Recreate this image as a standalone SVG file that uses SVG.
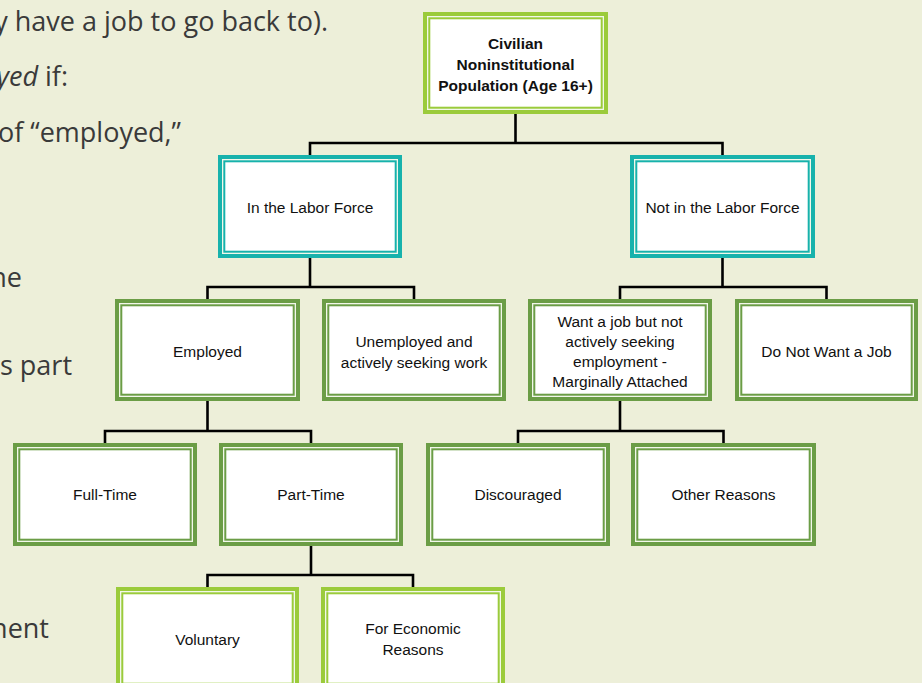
<svg xmlns="http://www.w3.org/2000/svg" width="922" height="683" viewBox="0 0 922 683">
<style>
.bg{fill:#EDEFD9}
.body{font-family:"Open Sans","Liberation Sans",sans-serif;font-size:27px;fill:#3a3a3a;text-anchor:end}
.lg{fill:#9BCB3B}
.tl{fill:#17B2AC}
.dg{fill:#6B9D46}
.hl{fill:#F2F7EA}
.in{fill:#FFFFFF}
.t{font-family:"Liberation Sans",Arial,sans-serif;font-size:15.5px;fill:#111;text-anchor:middle}
.tb{font-family:"Liberation Sans",Arial,sans-serif;font-size:15.5px;font-weight:bold;fill:#111;text-anchor:middle}
.cn{fill:none;stroke:#000;stroke-width:2.6}
</style>
<rect class="bg" x="0" y="0" width="922" height="683"/>
<g id="background-text">
<text class="body" x="328" y="31">y have a job to go back to).</text>
<text class="body" x="68" y="86"><tspan font-style="italic">yed</tspan> if:</text>
<text class="body" x="181" y="142">of “employed,”</text>
<text class="body" x="22" y="287">ne</text>
<text class="body" x="72" y="375">s part</text>
<text class="body" x="49" y="638">nent</text>
</g>
<g id="connectors">
<path class="cn" d="M515.5 114V143M310 155V143H722.5V155"/>
<path class="cn" d="M310 258V287M207.5 299V287H414V299"/>
<path class="cn" d="M722.5 258V287M620 299V287H826.5V299"/>
<path class="cn" d="M207.5 401V431M105 443V431H311V443"/>
<path class="cn" d="M620 401V431M518 443V431H723.5V443"/>
<path class="cn" d="M311 546V575M207.5 587V575H413V587"/>
</g>
<g id="n-population">
<rect class="lg" x="423" y="12" width="185" height="102"/><rect class="hl" x="427" y="16" width="177" height="94"/><rect class="lg" x="428.3" y="17.3" width="174.4" height="91.4"/><rect class="in" x="430.3" y="19.3" width="170.4" height="87.4"/>
<text class="tb" x="515.5" y="49">Civilian</text>
<text class="tb" x="515.5" y="70">Noninstitutional</text>
<text class="tb" x="515.5" y="91">Population (Age 16+)</text>
</g>
<g id="n-inlf">
<rect class="tl" x="218" y="155" width="184" height="103"/><rect class="hl" x="222" y="159" width="176" height="95"/><rect class="tl" x="223.3" y="160.3" width="173.4" height="92.4"/><rect class="in" x="225.3" y="162.3" width="169.4" height="88.4"/>
<text class="t" x="310" y="213">In the Labor Force</text>
</g>
<g id="n-notinlf">
<rect class="tl" x="630" y="155" width="185" height="103"/><rect class="hl" x="634" y="159" width="177" height="95"/><rect class="tl" x="635.3" y="160.3" width="174.4" height="92.4"/><rect class="in" x="637.3" y="162.3" width="170.4" height="88.4"/>
<text class="t" x="722.5" y="213">Not in the Labor Force</text>
</g>
<g id="n-employed">
<rect class="dg" x="115" y="299" width="185" height="102"/><rect class="hl" x="119" y="303" width="177" height="94"/><rect class="dg" x="120.3" y="304.3" width="174.4" height="91.4"/><rect class="in" x="122.3" y="306.3" width="170.4" height="87.4"/>
<text class="t" x="207.5" y="357">Employed</text>
</g>
<g id="n-unemployed">
<rect class="dg" x="322" y="299" width="184" height="102"/><rect class="hl" x="326" y="303" width="176" height="94"/><rect class="dg" x="327.3" y="304.3" width="173.4" height="91.4"/><rect class="in" x="329.3" y="306.3" width="169.4" height="87.4"/>
<text class="t" x="414" y="347">Unemployed and</text>
<text class="t" x="414" y="368">actively seeking work</text>
</g>
<g id="n-wantjob">
<rect class="dg" x="528" y="299" width="184" height="102"/><rect class="hl" x="532" y="303" width="176" height="94"/><rect class="dg" x="533.3" y="304.3" width="173.4" height="91.4"/><rect class="in" x="535.3" y="306.3" width="169.4" height="87.4"/>
<text class="t" x="620" y="327">Want a job but not</text>
<text class="t" x="620" y="347">actively seeking</text>
<text class="t" x="620" y="367">employment -</text>
<text class="t" x="620" y="387">Marginally Attached</text>
</g>
<g id="n-donotwant">
<rect class="dg" x="735" y="299" width="183" height="102"/><rect class="hl" x="739" y="303" width="175" height="94"/><rect class="dg" x="740.3" y="304.3" width="172.4" height="91.4"/><rect class="in" x="742.3" y="306.3" width="168.4" height="87.4"/>
<text class="t" x="826.5" y="357">Do Not Want a Job</text>
</g>
<g id="n-fulltime">
<rect class="dg" x="13" y="443" width="184" height="103"/><rect class="hl" x="17" y="447" width="176" height="95"/><rect class="dg" x="18.3" y="448.3" width="173.4" height="92.4"/><rect class="in" x="20.3" y="450.3" width="169.4" height="88.4"/>
<text class="t" x="105" y="500">Full-Time</text>
</g>
<g id="n-parttime">
<rect class="dg" x="219" y="443" width="184" height="103"/><rect class="hl" x="223" y="447" width="176" height="95"/><rect class="dg" x="224.3" y="448.3" width="173.4" height="92.4"/><rect class="in" x="226.3" y="450.3" width="169.4" height="88.4"/>
<text class="t" x="311" y="500">Part-Time</text>
</g>
<g id="n-discouraged">
<rect class="dg" x="426" y="443" width="184" height="103"/><rect class="hl" x="430" y="447" width="176" height="95"/><rect class="dg" x="431.3" y="448.3" width="173.4" height="92.4"/><rect class="in" x="433.3" y="450.3" width="169.4" height="88.4"/>
<text class="t" x="518" y="500">Discouraged</text>
</g>
<g id="n-otherreasons">
<rect class="dg" x="631" y="443" width="185" height="103"/><rect class="hl" x="635" y="447" width="177" height="95"/><rect class="dg" x="636.3" y="448.3" width="174.4" height="92.4"/><rect class="in" x="638.3" y="450.3" width="170.4" height="88.4"/>
<text class="t" x="723.5" y="500">Other Reasons</text>
</g>
<g id="n-voluntary">
<rect class="lg" x="116" y="587" width="183" height="103"/><rect class="hl" x="120" y="591" width="175" height="95"/><rect class="lg" x="121.3" y="592.3" width="172.4" height="92.4"/><rect class="in" x="123.3" y="594.3" width="168.4" height="88.4"/>
<text class="t" x="207.5" y="645">Voluntary</text>
</g>
<g id="n-economic">
<rect class="lg" x="321" y="587" width="184" height="103"/><rect class="hl" x="325" y="591" width="176" height="95"/><rect class="lg" x="326.3" y="592.3" width="173.4" height="92.4"/><rect class="in" x="328.3" y="594.3" width="169.4" height="88.4"/>
<text class="t" x="413" y="634">For Economic</text>
<text class="t" x="413" y="655">Reasons</text>
</g>
</svg>
